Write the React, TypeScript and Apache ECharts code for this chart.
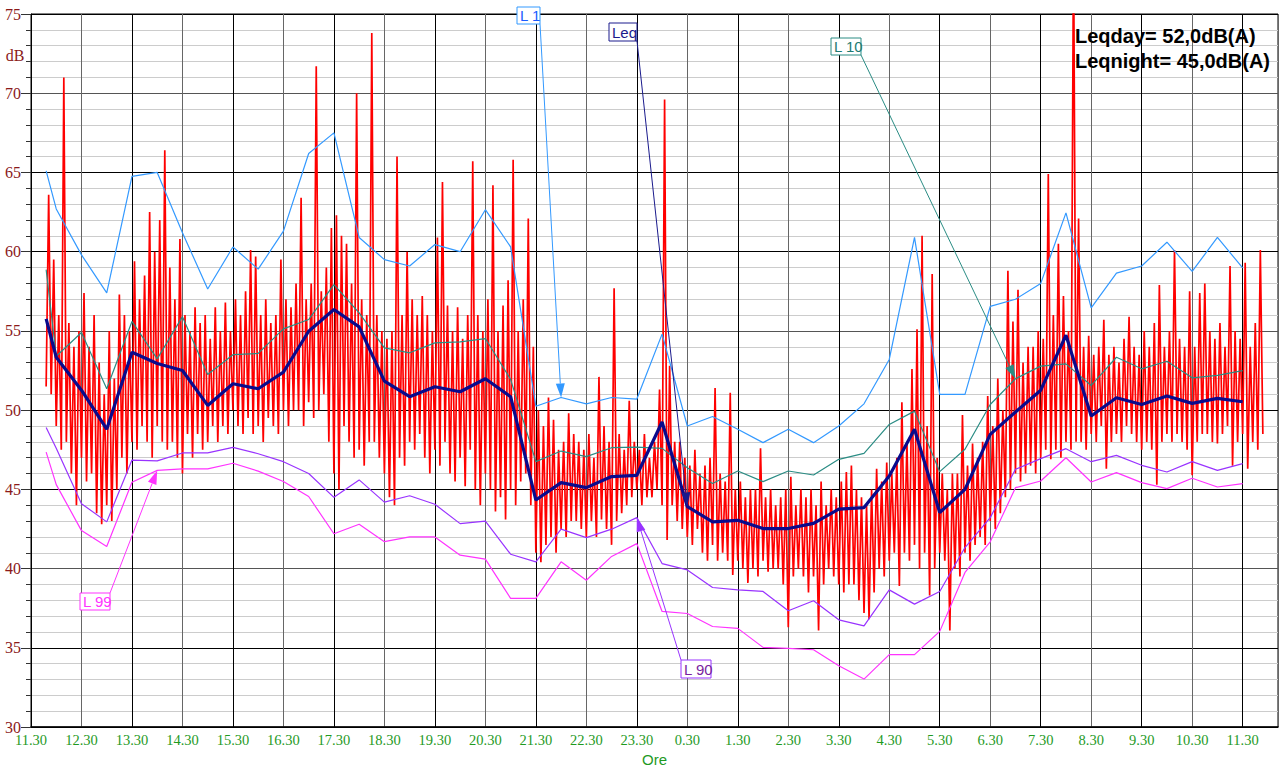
import React, { useEffect, useRef } from 'react';
import * as echarts from 'echarts';

// x values are hours elapsed since 11.30
const hourLabels = ['11.30', '12.30', '13.30', '14.30', '15.30', '16.30', '17.30', '18.30', '19.30', '20.30', '21.30', '22.30', '23.30', '0.30', '1.30', '2.30', '3.30', '4.30', '5.30', '6.30', '7.30', '8.30', '9.30', '10.30', '11.30'];

const statTimes = [0.3, 0.5, 1, 1.5, 2, 2.5, 3, 3.5, 4, 4.5, 5, 5.5, 6, 6.5, 7, 7.5, 8, 8.5, 9, 9.5, 10, 10.5, 11, 11.5, 12, 12.5, 13, 13.5, 14, 14.5, 15, 15.5, 16, 16.5, 17, 17.5, 18, 18.5, 19, 19.5, 20, 20.5, 21, 21.5, 22, 22.5, 23, 23.5, 24];

const l1 = [65.1, 62.7, 59.8, 57.4, 64.75, 65.0, 61.2, 57.65, 60.3, 58.9, 61.3, 66.2, 67.5, 60.9, 59.5, 59.1, 60.45, 60.0, 62.65, 60.3, 50.25, 50.8, 50.4, 50.8, 50.7, 54.8, 49.0, 49.6, 48.8, 47.95, 48.8, 47.95, 49.0, 50.4, 53.2, 60.9, 51.0, 51.0, 56.55, 57.0, 58.0, 62.45, 56.45, 58.65, 59.1, 60.6, 58.76, 60.9, 58.98];
const l10 = [58.87, 53.4, 54.9, 51.35, 55.6, 53.24, 55.9, 52.25, 53.5, 53.58, 55.13, 55.72, 57.92, 56.14, 53.93, 53.62, 54.25, 54.31, 54.52, 51.94, 46.75, 47.42, 47.07, 47.63, 47.67, 47.59, 46.37, 45.37, 46.16, 45.49, 46.16, 45.91, 46.9, 47.27, 49.1, 49.94, 46.12, 47.53, 50.36, 51.98, 52.78, 52.92, 51.56, 53.34, 52.61, 53.09, 52.04, 52.19, 52.5];
const leq = [55.76, 53.34, 51.26, 48.8, 53.66, 52.95, 52.5, 50.3, 51.67, 51.35, 52.4, 54.98, 56.35, 55.26, 51.83, 50.85, 51.48, 51.16, 51.98, 50.85, 44.33, 45.43, 45.11, 45.81, 45.89, 49.25, 43.92, 42.95, 43.05, 42.53, 42.53, 42.86, 43.75, 43.85, 45.84, 48.8, 43.54, 45.0, 48.47, 49.88, 51.26, 54.73, 49.63, 50.78, 50.36, 50.89, 50.43, 50.74, 50.53];
const l90 = [48.9, 47.6, 44.1, 42.95, 46.85, 46.8, 47.3, 47.3, 47.65, 47.25, 46.75, 46.0, 44.5, 45.6, 44.2, 44.6, 44.06, 42.84, 43.0, 40.91, 40.43, 42.49, 41.96, 42.49, 43.22, 40.32, 39.92, 38.81, 38.66, 38.56, 37.34, 37.97, 36.77, 36.39, 38.66, 37.76, 38.56, 41.33, 43.22, 46.27, 46.94, 47.57, 46.75, 47.15, 46.52, 46.1, 46.75, 46.2, 46.63];
const l99 = [47.35, 45.3, 42.4, 41.4, 45.45, 46.2, 46.3, 46.3, 46.65, 46.15, 45.5, 44.55, 42.2, 42.8, 41.7, 42.0, 42.0, 40.85, 40.6, 38.12, 38.12, 40.43, 39.27, 40.77, 41.58, 37.3, 37.17, 36.35, 36.23, 35.03, 34.97, 34.88, 33.87, 33.03, 34.57, 34.57, 36.04, 39.76, 41.69, 45.11, 45.53, 47.0, 45.47, 46.06, 45.43, 45.05, 45.7, 45.15, 45.37];

// instantaneous level, sampled every 0.05 h starting at 0.3 h
const redStart = 0.3;
const redStep = 0.05;
const redLevels = [
  51.5, 63.6, 51, 59.5, 49, 56, 47.5, 71, 48, 55.5,
  46, 54, 44, 55, 47, 57.4, 45.5, 54, 46, 56,
  43.5, 53, 42.8, 51, 44, 55, 43, 52, 45, 57.3,
  47, 56, 46, 55, 48, 59.4, 47.5, 57, 49, 58.5,
  48, 62.5, 47, 60, 49, 62, 48, 66.4, 47.5, 59,
  48, 57, 47, 60.8, 46, 56, 48.5, 55, 47, 56.5,
  48.5, 55.5, 47.5, 56, 48, 54.5, 49, 56.5, 48, 55,
  49, 56.8, 48.5, 55, 50, 57, 49, 56, 48.5, 57.5,
  49.5, 60.1, 48.5, 59.7, 49, 56, 48, 57, 49.5, 55.5,
  49, 56, 48.5, 59.5, 50, 57, 49, 56.5, 50, 58,
  50, 63.4, 49, 57, 50.5, 58, 49.5, 71.7, 50, 57.5,
  51, 59, 48, 61.5, 46, 62.3, 45, 61, 49, 60.5,
  48, 58, 47, 70, 47.5, 57, 46.5, 56, 48, 73.8,
  48, 56, 47, 55, 46, 54.5, 44.5, 55, 44, 66,
  47, 56, 46.5, 60, 48, 57, 47.5, 56, 48.5, 57.2,
  47, 56, 46, 55, 47.5, 60.9, 46.5, 64.4, 48, 56.6,
  46, 55, 45.5, 56.5, 47, 54.5, 45.2, 56, 47.5, 65.7,
  45, 56, 44, 55, 46, 57, 45, 64.2, 43.6, 55,
  44.5, 56.6, 43.1, 58.2, 45, 65.8, 44, 55, 45.5, 57,
  46, 62.1, 44, 54, 41, 50, 40.4, 49, 41.5, 50.8,
  42, 49.4, 41, 47.5, 42.5, 48, 42, 49.8, 43, 48.5,
  43, 48, 42.5, 47.5, 42, 48.5, 43, 47, 42, 52.1,
  43.1, 49, 42.5, 48, 41.5, 57.7, 43, 48.5, 43.5, 47.5,
  44, 50.6, 44.5, 48, 45, 47.5, 44, 48.5, 44.5, 47,
  44.5, 48, 45, 51.3, 44, 69.6, 41.8, 52.8, 44, 48,
  43, 48, 42.5, 47, 42, 46.5, 41.5, 47.5, 42.5, 46,
  41, 46.5, 40.5, 47, 41.5, 51.4, 40.5, 46, 41, 45.5,
  40.5, 51.1, 39.6, 45, 40.5, 45.5, 40, 44.5, 39.1, 45,
  40, 45, 39.5, 47.6, 40.5, 44.5, 39.8, 45, 40, 44,
  40, 44.5, 39, 45, 36.3, 45.8, 39.5, 44, 40, 45,
  39.5, 44.5, 38.5, 45, 39.5, 44, 36.1, 45.5, 39, 44,
  40, 45, 39.5, 44.5, 39, 45.5, 38.5, 46.1, 39, 46.5,
  39, 45, 38, 44.5, 37.2, 44, 36.8, 45, 38.5, 46.3,
  40, 45.5, 39.5, 46.7, 40.5, 46, 41, 47, 38.9, 50.5,
  41, 48, 40.5, 52.6, 41.5, 55.1, 40, 61, 41, 49,
  38.3, 58.6, 40, 47, 41, 46, 40.5, 45, 36.1, 46,
  40, 46, 39.5, 49.7, 41, 46.5, 40.5, 47.9, 41.5, 47,
  42, 48, 41.5, 50.9, 43, 49, 42.5, 52, 43.5, 50,
  44.5, 58.8, 45, 55.6, 46, 57.6, 45.5, 53, 46, 54,
  46.5, 54, 46, 55, 47, 54.5, 47.5, 64.9, 46.9, 56,
  47.5, 60.5, 47, 57.2, 48, 55, 47.5, 80, 48, 62.1,
  48, 54, 47.5, 54.7, 48.5, 53.5, 48, 54, 49, 55.7,
  46.3, 53.5, 48, 54, 48.5, 53, 48, 54.5, 49, 55.9,
  48.5, 54, 48, 53.5, 47.5, 55, 48, 54, 47.5, 55.5,
  45.3, 57.9, 48, 54, 48.5, 55, 48, 60.1, 48.5, 54.5,
  48, 54, 47.5, 57.5, 45.9, 54, 48, 57.4, 48.5, 58,
  48.5, 55, 48, 54.5, 47.9, 55.5, 48.5, 54, 49, 59.1,
  46.5, 55, 48, 54.5, 48.5, 59.3, 46.3, 54, 48, 55.5,
  47.5, 60.1, 48.5,
];

const summaryLines = ['Leqday= 52,0dB(A)', 'Leqnight= 45,0dB(A)'];

export default function App() {
  const ref = useRef<HTMLDivElement>(null);
  useEffect(() => {
    const chart = echarts.init(ref.current as HTMLDivElement, null, { renderer: 'svg' });
    const mk = (name: string, data: number[], color: string, width: number, z: number) => ({
      type: 'line',
      name,
      data: statTimes.map((t, i) => [t, data[i]]),
      symbol: 'none',
      lineStyle: { color, width },
      itemStyle: { color },
      z,
      silent: true,
      clip: true,
    });
    const red = redLevels.map((v, i) => [Math.round((redStart + i * redStep) * 1000) / 1000, v]);
    chart.setOption({
      animation: false,
      backgroundColor: '#ffffff',
      grid: { left: 31, right: 5, top: 14, bottom: 44, show: true, borderColor: '#000', borderWidth: 1 },
      xAxis: {
        type: 'value', min: 0, max: 24.7, interval: 1,
        name: 'Ore', nameLocation: 'middle', nameGap: 23,
        nameTextStyle: { color: '#1f9a1f', fontFamily: 'Liberation Sans', fontSize: 15 },
        axisLine: { show: true, lineStyle: { color: '#000', width: 1.5 } },
        axisTick: { show: false },
        axisLabel: {
          color: '#1f9a1f', fontFamily: 'Liberation Serif', fontSize: 14.5, margin: 5,
          showMaxLabel: false,
          formatter: (v: number) => (Number.isInteger(v) && hourLabels[v] !== undefined ? hourLabels[v] : ''),
        },
        splitLine: { show: true, lineStyle: { color: ['#000', '#666'], width: 1 } },
      },
      yAxis: {
        type: 'value', min: 30, max: 75, interval: 5,
        axisLine: { show: true, lineStyle: { color: '#000' } },
        axisTick: { show: true, length: 10, lineStyle: { color: '#333' } },
        minorTick: { show: true, splitNumber: 5, length: 5, lineStyle: { color: '#333' } },
        minorSplitLine: { show: true, lineStyle: { color: '#cccccc', width: 1 } },
        splitLine: { show: true, lineStyle: { color: ['#000', '#000', '#555'], width: 1 } },
        axisLabel: { color: '#8b1a1a', fontFamily: 'Liberation Serif', fontSize: 16, margin: 10 },
      },
      series: [
        {
          type: 'line', name: 'Level', data: red, symbol: 'none',
          lineStyle: { color: '#ff0000', width: 1.7 }, z: 2, silent: true, clip: true,
        },
        mk('L 99', l99, '#ff33ff', 1.2, 3),
        mk('L 90', l90, '#9933ff', 1.2, 3),
        mk('L 10', l10, '#2a8c84', 1.2, 3),
        mk('L 1', l1, '#3399ff', 1.2, 3),
        mk('Leq', leq, '#0a0a8c', 3.2, 4),
      ],
    });

    const annos = [
      { label: 'L 1', box: [517, 7, 23, 17], from: [540, 24], data: l1, idx: 21, stroke: '#3399ff', text: '#1a5cff' },
      { label: 'Leq', box: [609, 23, 28, 18], from: [637, 41], data: leq, idx: 26, stroke: '#1a1a8c', text: '#1a1a8c' },
      { label: 'L 10', box: [831, 38, 30, 17], from: [861, 55], data: l10, idx: 39, stroke: '#2a8c84', text: '#1e7a72' },
      { label: 'L 99', box: [80, 593, 30, 17], from: [110, 593], data: l99, idx: 5, stroke: '#ff33ff', text: '#ff33ff' },
      { label: 'L 90', box: [681, 660, 30, 18], from: [681, 660], data: l90, idx: 24, stroke: '#9933ff', text: '#7a1fa0' },
    ];
    const g: any[] = [];
    annos.forEach((a) => {
      const p = chart.convertToPixel({ gridIndex: 0 }, [statTimes[a.idx], a.data[a.idx]]) as number[];
      const tx = p[0], ty = p[1];
      const sx = a.from[0], sy = a.from[1];
      const dx = tx - sx, dy = ty - sy;
      const len = Math.hypot(dx, dy) || 1;
      const ux = dx / len, uy = dy / len;
      const bx = tx - ux * 14, by = ty - uy * 14;
      const px = -uy * 4.5, py = ux * 4.5;
      g.push({ type: 'line', z: 100, silent: true, shape: { x1: sx, y1: sy, x2: bx, y2: by }, style: { stroke: a.stroke, lineWidth: 1 } });
      g.push({ type: 'polygon', z: 100, silent: true, shape: { points: [[tx, ty], [bx + px, by + py], [bx - px, by - py]] }, style: { fill: a.stroke } });
      g.push({ type: 'rect', z: 101, silent: true, shape: { x: a.box[0], y: a.box[1], width: a.box[2], height: a.box[3] }, style: { fill: '#ffffff', stroke: a.stroke, lineWidth: 1 } });
      g.push({ type: 'text', z: 102, silent: true, x: a.box[0] + 3, y: a.box[1] + a.box[3] / 2, style: { text: a.label, fill: a.text, font: '15px "Liberation Sans", Arial, sans-serif', textVerticalAlign: 'middle', verticalAlign: 'middle' } });
    });
    summaryLines.forEach((s, i) => {
      g.push({ type: 'text', z: 102, silent: true, x: 1075, y: 36 + i * 25, style: { text: s, fill: '#000', font: 'bold 20px "Liberation Sans", Arial, sans-serif', textVerticalAlign: 'middle', verticalAlign: 'middle' } });
    });
    g.push({ type: 'text', z: 102, silent: true, x: 15, y: 55, style: { text: 'dB', fill: '#8b1a1a', font: '16px "Liberation Serif", serif', textAlign: 'center', align: 'center', textVerticalAlign: 'middle', verticalAlign: 'middle' } });
    chart.setOption({ graphic: g });

    return () => chart.dispose();
  }, []);
  return <div ref={ref} style={{ position: 'absolute', left: 0, top: 0, width: 1283, height: 772, background: '#fff' }} />;
}
